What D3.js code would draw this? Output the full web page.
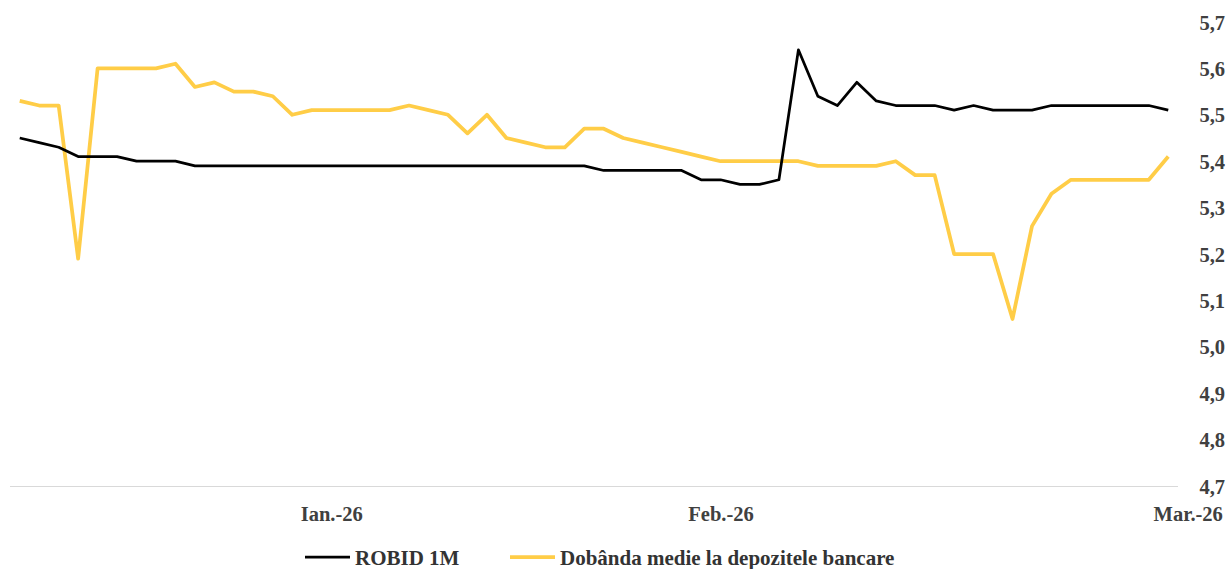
<!DOCTYPE html>
<html>
<head>
<meta charset="utf-8">
<script src="https://cdn.jsdelivr.net/npm/d3@7"></script>
<style>
  html, body { margin: 0; padding: 0; background: #ffffff; }
  svg { display: block; }
  text { font-family: "Liberation Serif", "Times New Roman", serif; font-weight: bold; }
</style>
</head>
<body>
<svg id="chart" width="1230" height="569"></svg>
<script>
// Daily observations (business days), in order
const robid = [
  5.45, 5.44, 5.43, 5.41, 5.41, 5.41, 5.40, 5.40, 5.40, 5.39,
  5.39, 5.39, 5.39, 5.39, 5.39, 5.39, 5.39, 5.39, 5.39, 5.39,
  5.39, 5.39, 5.39, 5.39, 5.39, 5.39, 5.39, 5.39, 5.39, 5.39,
  5.38, 5.38, 5.38, 5.38, 5.38, 5.36, 5.36, 5.35, 5.35, 5.36,
  5.64, 5.54, 5.52, 5.57, 5.53, 5.52, 5.52, 5.52, 5.51, 5.52,
  5.51, 5.51, 5.51, 5.52, 5.52, 5.52, 5.52, 5.52, 5.52, 5.51
];
const dobanda = [
  5.53, 5.52, 5.52, 5.19, 5.60, 5.60, 5.60, 5.60, 5.61, 5.56,
  5.57, 5.55, 5.55, 5.54, 5.50, 5.51, 5.51, 5.51, 5.51, 5.51,
  5.52, 5.51, 5.50, 5.46, 5.50, 5.45, 5.44, 5.43, 5.43, 5.47,
  5.47, 5.45, 5.44, 5.43, 5.42, 5.41, 5.40, 5.40, 5.40, 5.40,
  5.40, 5.39, 5.39, 5.39, 5.39, 5.40, 5.37, 5.37, 5.20, 5.20,
  5.20, 5.06, 5.26, 5.33, 5.36, 5.36, 5.36, 5.36, 5.36, 5.41
];
const seriesNames = ["ROBID 1M", "Dobânda medie la depozitele bancare"];
const seriesColors = ["#000000", "#FFCD47"];

// Month labels and the day index where each month begins
const monthStarts = [16, 36, 60];
const monthLabels = ["Ian.-26", "Feb.-26", "Mar.-26"];

const yTicks = [4.7, 4.8, 4.9, 5.0, 5.1, 5.2, 5.3, 5.4, 5.5, 5.6, 5.7];

const svg = d3.select("#chart");

const x = d3.scaleLinear().domain([-0.5, robid.length - 0.5]).range([10, 1178]);
const y = d3.scaleLinear().domain([4.7, 5.7]).range([486, 22]);

const fmt = v => d3.format(".1f")(v).replace(".", ",");
const labelFont = "'Liberation Serif', 'Times New Roman', serif";

// Category axis baseline
svg.append("line")
  .attr("x1", x.range()[0]).attr("x2", x.range()[1])
  .attr("y1", y(4.7) + 0.5).attr("y2", y(4.7) + 0.5)
  .attr("stroke", "#D9D9D9").attr("stroke-width", 1);

// Value labels on the right
const yAxis = d3.axisRight(y).tickValues(yTicks).tickFormat(fmt).tickSize(0).tickPadding(0);
const gy = svg.append("g").attr("transform", "translate(1225,0)").call(yAxis);
gy.select(".domain").remove();
gy.selectAll("text")
  .attr("text-anchor", "end")
  .attr("x", 0)
  .attr("dy", "0.35em")
  .style("font-family", labelFont)
  .style("font-weight", "bold")
  .style("font-size", "20.5px")
  .attr("fill", "#404040");

// Month labels below
const xAxis = d3.axisBottom(x).tickValues(monthStarts)
  .tickFormat((d, i) => monthLabels[i]).tickSize(0).tickPadding(0);
const gx = svg.append("g").attr("transform", `translate(0,${y(4.7)})`).call(xAxis);
gx.select(".domain").remove();
gx.selectAll("text")
  .attr("y", 28)
  .attr("dy", "0.35em")
  .style("font-family", labelFont)
  .style("font-weight", "bold")
  .style("font-size", "20.5px")
  .attr("fill", "#404040");

const line = d3.line().x((d, i) => x(i)).y(d => y(d));

svg.append("path").datum(dobanda)
  .attr("d", line).attr("fill", "none")
  .attr("stroke", seriesColors[1]).attr("stroke-width", 3.75)
  .attr("stroke-linejoin", "round");

svg.append("path").datum(robid)
  .attr("d", line).attr("fill", "none")
  .attr("stroke", seriesColors[0]).attr("stroke-width", 2.75)
  .attr("stroke-linejoin", "round");

// Legend
const legendItems = [
  { name: seriesNames[0], color: seriesColors[0], width: 2.75, x0: 305 },
  { name: seriesNames[1], color: seriesColors[1], width: 3.75, x0: 510 }
];
const lg = svg.append("g").attr("transform", "translate(0,557)");
legendItems.forEach(it => {
  lg.append("line")
    .attr("x1", it.x0).attr("x2", it.x0 + 45)
    .attr("y1", 0).attr("y2", 0)
    .attr("stroke", it.color).attr("stroke-width", it.width);
  lg.append("text")
    .attr("x", it.x0 + 50).attr("y", 1).attr("dy", "0.35em")
    .style("font-size", "21px")
    .attr("fill", "#333333")
    .text(it.name);
});
</script>
</body>
</html>
